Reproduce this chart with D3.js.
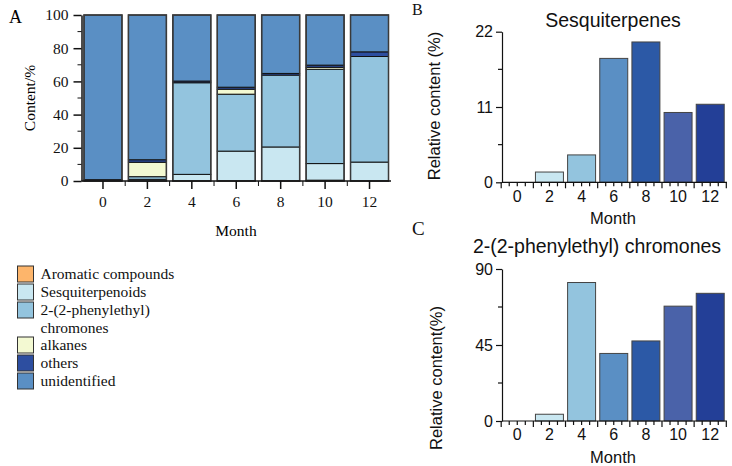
<!DOCTYPE html>
<html>
<head>
<meta charset="utf-8">
<script src="https://cdn.jsdelivr.net/npm/d3@7"></script>
<style>
  body { margin: 0; background: white; }
  svg { display: block; }
</style>
</head>
<body>
<div id="chart"></div>
<script>
// data
const months = [0, 2, 4, 6, 8, 10, 12];
const categories = ['Aromatic compounds', 'Sesquiterpenoids', '2-(2-phenylethyl) chromones', 'alkanes', 'others', 'unidentified'];
const aromatic = [0, 0, 0, 0, 0, 0.5, 0];
const sesquiterpenoids = [0, 1, 4, 18, 20.5, 10, 11.4];
const chromones = [0, 1.6, 55.2, 34.3, 43.3, 56.8, 63.6];
const alkanes = [0, 8.7, 0, 3, 0, 1.2, 0];
const others = [0.8, 1.5, 1, 1.2, 1, 1.3, 2.8];
const unidentified = [99.2, 87.2, 39.8, 43.5, 35.2, 30.2, 22.2];

const sesquiterpenes = [0, 1.5, 4, 18.1, 20.5, 10.2, 11.4];
const chromonesRel = [0, 4, 82, 40, 47.4, 68, 75.6];

const yTicksA = [0, 20, 40, 60, 80, 100];
const yTicksB = [0, 11, 22];
const yTicksC = [0, 45, 90];

const catColors = ['#fdb56b', '#c9e7f1', '#93c4de', '#f3f9d2', '#2d4ea0', '#5a8fc4'];
const monthColors = ['#c9e7f1', '#c9e7f1', '#93c4de', '#5a8fc4', '#2c59a6', '#4a62a9', '#233f97'];

const W = 732, H = 466;
const svg = d3.select('#chart').append('svg').attr('width', W).attr('height', H);

const serif = 'Liberation Serif, Times New Roman, serif';
const sans = 'Liberation Sans, Arial, sans-serif';

//---------------- panel A : stacked bars
const rows = months.map((m, i) => ({
  month: m,
  c0: aromatic[i], c1: sesquiterpenoids[i], c2: chromones[i],
  c3: alkanes[i], c4: others[i], c5: unidentified[i]
}));
const keys = ['c0', 'c1', 'c2', 'c3', 'c4', 'c5'];
const stacked = d3.stack().keys(keys)(rows);

const xA = d3.scaleBand().domain(months).range([81.5, 391]).paddingInner(0.145).paddingOuter(0.056);
const yA = d3.scaleLinear().domain([0, 100]).range([181, 15]);

const gA = svg.append('g');

gA.selectAll('g.layer')
  .data(stacked)
  .join('g')
  .attr('class', 'layer')
  .attr('fill', (d, i) => catColors[i])
  .selectAll('rect')
  .data(d => d)
  .join('rect')
  .attr('x', d => xA(d.data.month))
  .attr('width', xA.bandwidth())
  .attr('y', d => yA(d[1]))
  .attr('height', d => yA(d[0]) - yA(d[1]))
  .attr('stroke', '#111')
  .attr('stroke-width', d => (d[1] - d[0]) > 0 ? 1 : 0);

// outline of each bar
gA.selectAll('rect.outline')
  .data(months)
  .join('rect')
  .attr('class', 'outline')
  .attr('x', d => xA(d))
  .attr('width', xA.bandwidth())
  .attr('y', yA(100))
  .attr('height', yA(0) - yA(100))
  .attr('fill', 'none')
  .attr('stroke', '#3a3a3a')
  .attr('stroke-width', 1.5);

// y axis A
const yAxisA = d3.axisLeft(yA).tickValues(yTicksA).tickSize(8).tickSizeOuter(0).tickPadding(5);
const yAxA = gA.append('g').attr('transform', 'translate(81.5,0)').call(yAxisA);
yAxA.selectAll('text').attr('font-family', serif).attr('font-size', 15.5).attr('fill', '#111');
yAxA.append('g').selectAll('line')
  .data(d3.range(10, 100, 20))
  .join('line')
  .attr('x1', -4).attr('x2', 0)
  .attr('y1', d => yA(d)).attr('y2', d => yA(d))
  .attr('stroke', '#111');

// x axis A
const xAxisA = d3.axisBottom(xA).tickSize(8).tickSizeOuter(0).tickPadding(7);
const xAxA = gA.append('g').attr('transform', 'translate(0,181)').call(xAxisA);
xAxA.select('.domain').attr('d', `M81.5,0H391`);
xAxA.selectAll('text').attr('font-family', serif).attr('font-size', 15.5).attr('fill', '#111');
xAxA.append('g').selectAll('line')
  .data(months.slice(1))
  .join('line')
  .attr('x1', d => xA(d) - xA.step() * xA.paddingInner() / 2)
  .attr('x2', d => xA(d) - xA.step() * xA.paddingInner() / 2)
  .attr('y1', 0).attr('y2', 5)
  .attr('stroke', '#111');
gA.selectAll('.domain, .tick line').attr('stroke', '#111').attr('stroke-width', 1.5);

gA.append('text').attr('x', 236).attr('y', 236).attr('text-anchor', 'middle')
  .attr('font-family', serif).attr('font-size', 15.5).text('Month');
gA.append('text').attr('transform', 'translate(35,98) rotate(-90)').attr('text-anchor', 'middle')
  .attr('font-family', serif).attr('font-size', 15.5).text('Content/%');
gA.append('text').attr('x', 9).attr('y', 23)
  .attr('font-family', serif).attr('font-size', 18).text('A');

// legend
const legendRows = [
  { i: 0, top: 266 },
  { i: 1, top: 284 },
  { i: 2, top: 302 },
  { i: 3, top: 337 },
  { i: 4, top: 355 },
  { i: 5, top: 373 }
];
const legend = svg.append('g');
legend.selectAll('rect')
  .data(legendRows)
  .join('rect')
  .attr('x', 17.5).attr('y', d => d.top)
  .attr('width', 16).attr('height', 16)
  .attr('fill', d => catColors[d.i])
  .attr('stroke', '#333').attr('stroke-width', 1);
legend.selectAll('text')
  .data(legendRows)
  .join('text')
  .attr('x', 40.5).attr('y', d => d.top + 13)
  .attr('font-family', serif).attr('font-size', 15.5).attr('fill', '#111')
  .text(d => d.i === 2 ? '2-(2-phenylethyl)' : categories[d.i]);
legend.append('text').attr('x', 40.5).attr('y', 333)
  .attr('font-family', serif).attr('font-size', 15.5).attr('fill', '#111').text('chromones');

//---------------- panels B and C : simple bars
function drawPanel(values, ticks, top, bottom, opts) {
  const g = svg.append('g');
  const x = d3.scaleBand().domain(months).range([502, 725.5]).paddingInner(0.13).paddingOuter(0.04);
  const y = d3.scaleLinear().domain([0, ticks[ticks.length - 1]]).range([bottom, top]);

  g.selectAll('rect')
    .data(values.map((v, i) => ({ m: months[i], v: v, i: i })).filter(d => d.v > 0))
    .join('rect')
    .attr('x', d => x(d.m))
    .attr('width', x.bandwidth())
    .attr('y', d => y(d.v))
    .attr('height', d => y(0) - y(d.v))
    .attr('fill', d => monthColors[d.i])
    .attr('stroke', '#444').attr('stroke-width', 1);

  const yAx = g.append('g').attr('transform', 'translate(502,0)')
    .call(d3.axisLeft(y).tickValues(ticks).tickSize(6).tickSizeOuter(0).tickPadding(3));
  yAx.selectAll('text').attr('font-family', sans).attr('font-size', 16).attr('fill', '#111');
  yAx.append('g').selectAll('line')
    .data([ticks[0] + (ticks[1] - ticks[0]) / 2, ticks[1] + (ticks[2] - ticks[1]) / 2])
    .join('line')
    .attr('x1', -4).attr('x2', 0)
    .attr('y1', d => y(d)).attr('y2', d => y(d))
    .attr('stroke', '#111');

  const xAx = g.append('g').attr('transform', `translate(0,${bottom})`)
    .call(d3.axisBottom(x).tickSize(0).tickSizeOuter(0).tickPadding(8));
  xAx.select('.domain').attr('d', 'M502,0H727');
  xAx.selectAll('text').attr('font-family', sans).attr('font-size', 16).attr('fill', '#111');
  // little ticks along the x axis, four per band
  const quarter = d3.range(0, 29).map(k => 502 + x.step() * x.paddingOuter() - x.step() * x.paddingInner() / 2 + k * x.step() / 4);
  xAx.append('g').selectAll('line')
    .data(quarter)
    .join('line')
    .attr('x1', d => d).attr('x2', d => d)
    .attr('y1', 0).attr('y2', (d, k) => k % 4 === 0 ? 6 : 4)
    .attr('stroke', '#111');
  g.selectAll('.domain, .tick line, line').attr('stroke', '#111').attr('stroke-width', 1.2);

  g.append('text').attr('x', 613).attr('y', bottom + 42).attr('text-anchor', 'middle')
    .attr('font-family', sans).attr('font-size', 16.5).attr('fill', '#111').text('Month');
  g.append('text').attr('transform', `translate(${opts.ylabX},${opts.ylabY}) rotate(-90)`)
    .attr('text-anchor', 'middle')
    .attr('font-family', sans).attr('font-size', 16.5).attr('fill', '#111').text(opts.ylabel);
  g.append('text').attr('x', opts.titleX).attr('y', opts.titleY).attr('text-anchor', 'middle')
    .attr('font-family', sans).attr('font-size', 19.5).attr('fill', '#111').text(opts.title);
  g.append('text').attr('x', opts.letterX).attr('y', opts.letterY)
    .attr('font-family', serif).attr('font-size', opts.letterSize).attr('fill', '#111').text(opts.letter);
}

drawPanel(sesquiterpenes, yTicksB, 31.7, 182.3, {
  ylabel: 'Relative content (%)', ylabX: 440, ylabY: 106,
  title: 'Sesquiterpenes', titleX: 613, titleY: 27,
  letter: 'B', letterX: 412, letterY: 15, letterSize: 16
});
drawPanel(chromonesRel, yTicksC, 269, 421, {
  ylabel: 'Relative content(%)', ylabX: 442, ylabY: 378,
  title: '2-(2-phenylethyl) chromones', titleX: 597, titleY: 253,
  letter: 'C', letterX: 412, letterY: 235, letterSize: 19
});
</script>
</body>
</html>
